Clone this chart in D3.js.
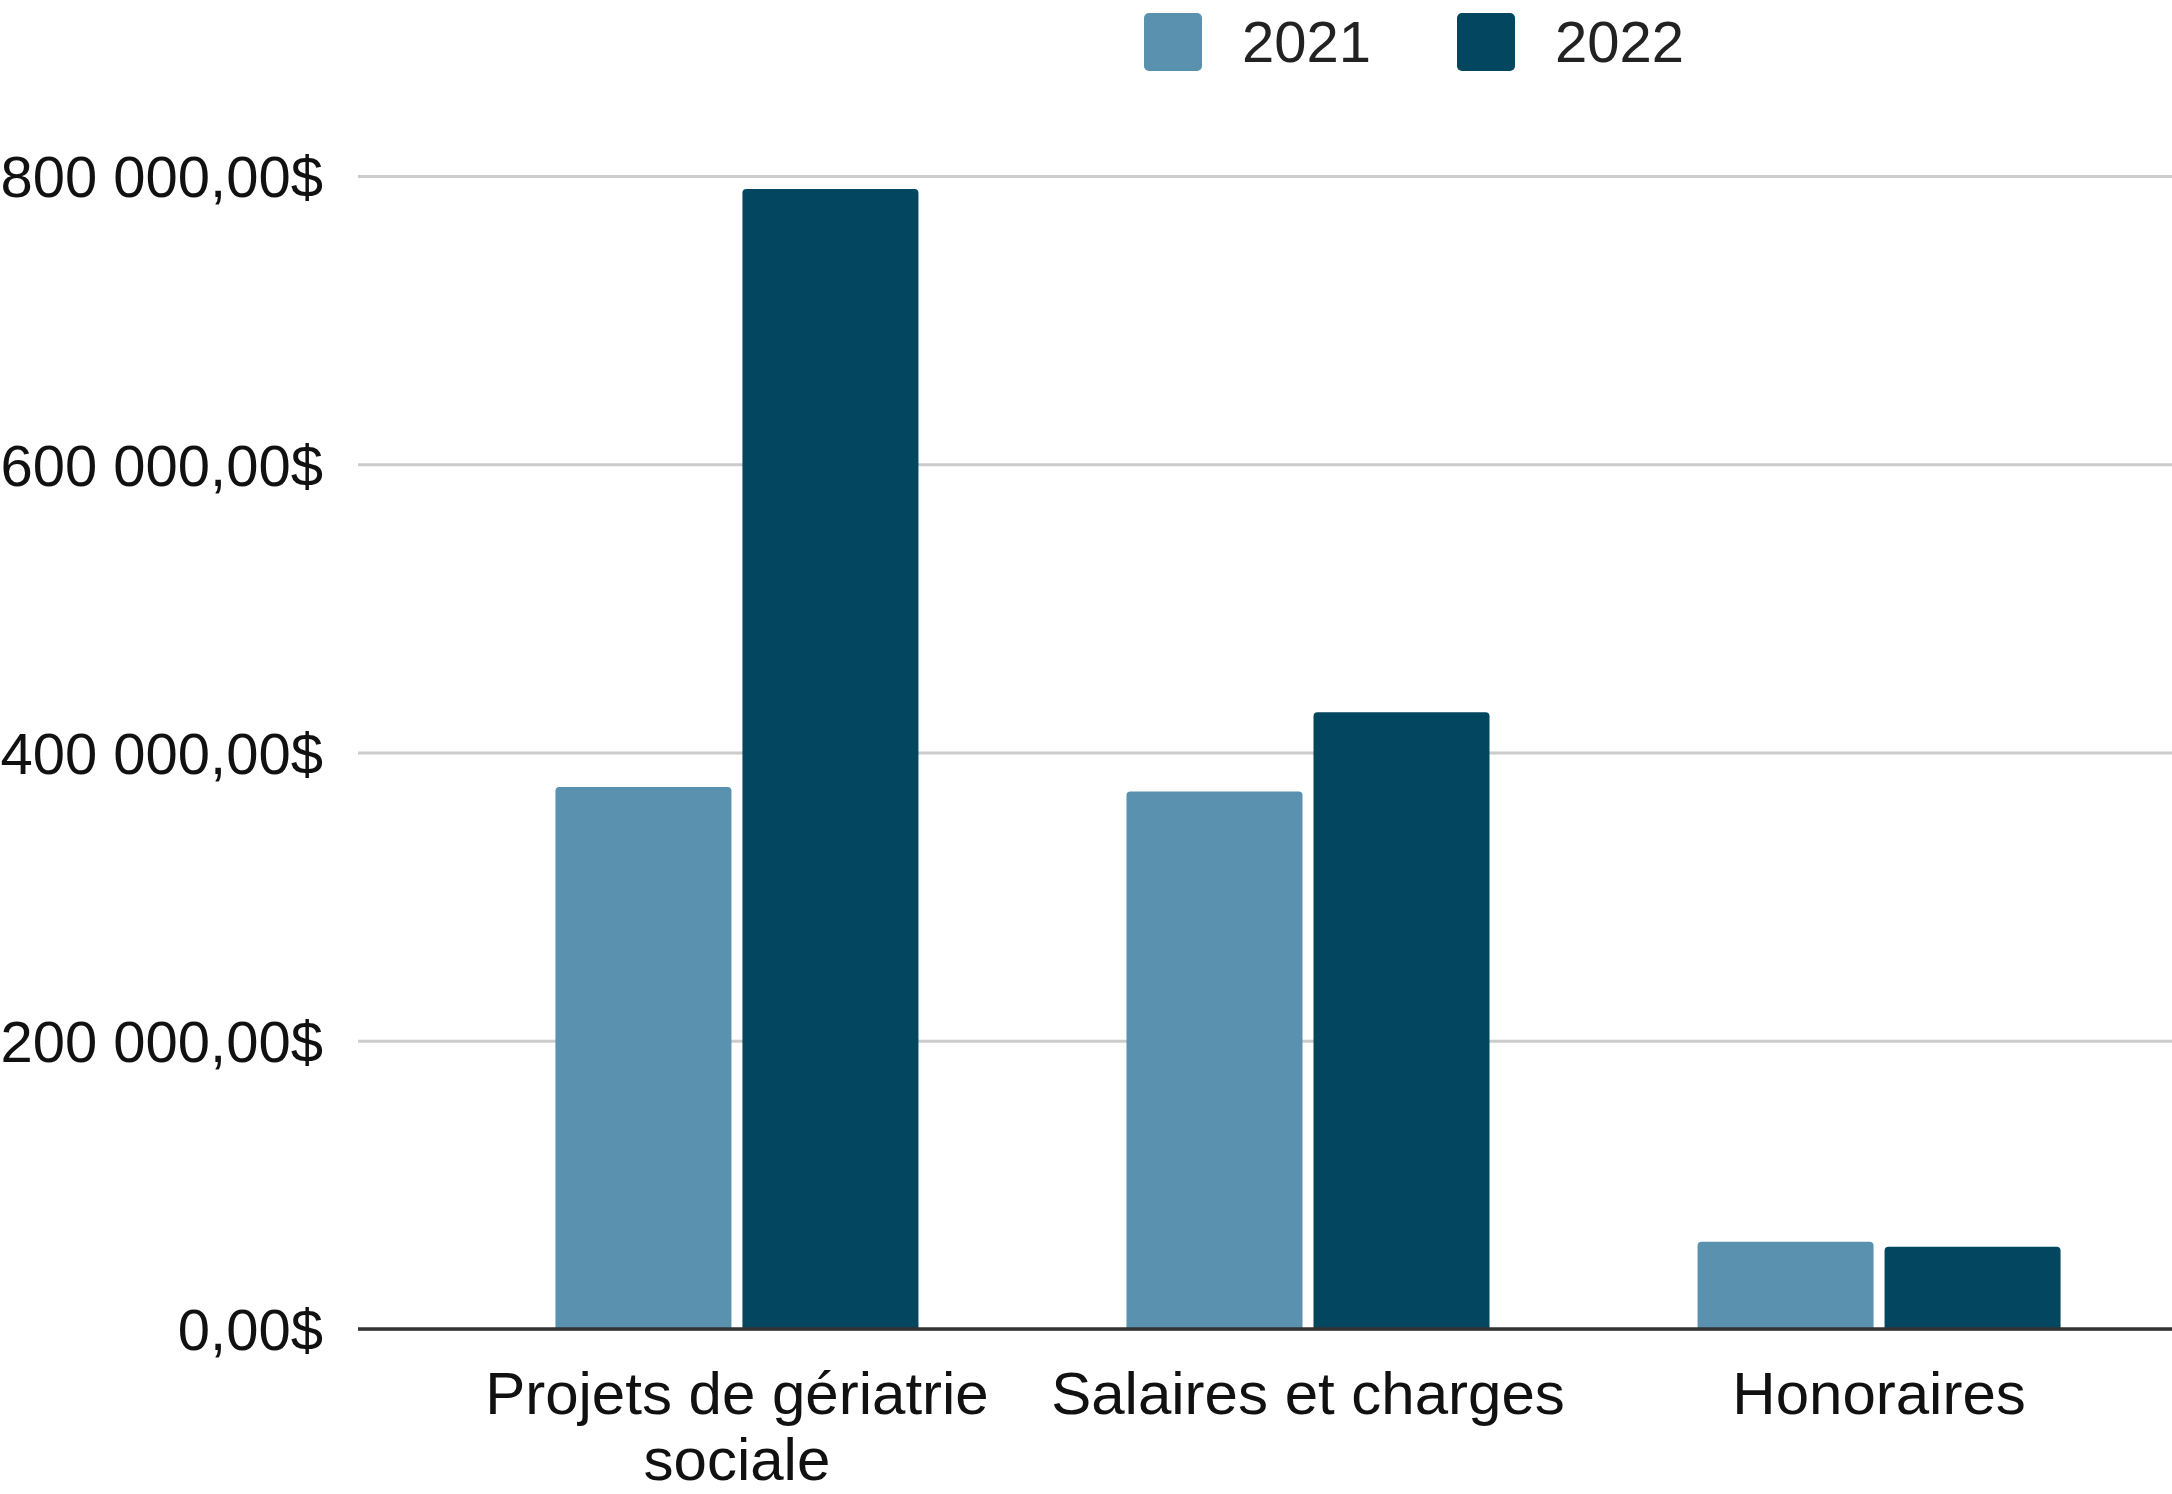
<!DOCTYPE html>
<html>
<head>
<meta charset="utf-8">
<script src="https://cdn.jsdelivr.net/npm/d3@7"></script>
<style>
  html, body { margin: 0; padding: 0; background: #ffffff; }
  svg { display: block; }
  text { font-family: "Liberation Sans", Arial, sans-serif; }
</style>
</head>
<body>
<svg id="chart" width="2172" height="1494"></svg>
<script>
// ---- Data ----
const categories = ["Projets de gériatrie sociale", "Salaires et charges", "Honoraires"];
const seriesNames = ["2021", "2022"];
const values2021 = [376000, 373000, 60500];
const values2022 = [791000, 428000, 57000];
const yTicks = [0, 200000, 400000, 600000, 800000];
const seriesColors = ["#5991ae", "#02465f"];

// ---- Layout ----
const W = 2172, H = 1494;
const plotLeft = 358, plotRight = 2172;
const yTop = 176, yBottom = 1329;

const svg = d3.select("#chart");

const fr = d3.formatLocale({ decimal: ",", thousands: " ", grouping: [3], currency: ["", "$"] });
const fmt = fr.format("$,.2f");

const y = d3.scaleLinear().domain([0, 800000]).range([yBottom, yTop]);

const x0 = d3.scaleBand().domain(categories).range([451.5, 2164.5])
  .paddingInner(0.3643).paddingOuter(0.182);
const x1 = d3.scaleBand().domain(seriesNames).range([0, x0.bandwidth()])
  .paddingInner(0.0588).paddingOuter(0);
const color = d3.scaleOrdinal().domain(seriesNames).range(seriesColors);

// ---- Gridlines + y axis labels ----
const yAxis = d3.axisLeft(y).tickValues(yTicks).tickFormat(fmt)
  .tickSizeInner(-(plotRight - plotLeft)).tickSizeOuter(0).tickPadding(35);
const gy = svg.append("g").attr("transform", `translate(${plotLeft},0)`).call(yAxis);
gy.select(".domain").remove();
gy.selectAll(".tick line").attr("stroke", "#cccccc").attr("stroke-width", 3);
gy.selectAll(".tick text")
  .attr("fill", "#111111")
  .style("font-size", "58px")
  .attr("dy", "0.36em");

// ---- Bars ----
const rows = categories.map((c, i) => ({ cat: c, vals: [values2021[i], values2022[i]] }));
function topRounded(x, yv, w, h, r) {
  r = Math.min(r, h, w / 2);
  return `M${x},${yv + h}V${yv + r}Q${x},${yv} ${x + r},${yv}H${x + w - r}Q${x + w},${yv} ${x + w},${yv + r}V${yv + h}Z`;
}
const groups = svg.append("g").selectAll("g").data(rows).join("g")
  .attr("transform", d => `translate(${x0(d.cat)},0)`);
groups.selectAll("path").data(d => d.vals.map((v, j) => ({ s: seriesNames[j], v })))
  .join("path")
  .attr("fill", d => color(d.s))
  .attr("d", d => topRounded(x1(d.s), y(d.v), x1.bandwidth(), y(0) - y(d.v), 4));

// ---- Baseline ----
svg.append("line")
  .attr("x1", plotLeft).attr("x2", plotRight)
  .attr("y1", y(0)).attr("y2", y(0))
  .attr("stroke", "#333333").attr("stroke-width", 3.5);

// ---- X axis labels ----
const xAxis = d3.axisBottom(x0).tickSize(0).tickPadding(42);
const gx = svg.append("g").attr("transform", `translate(0,${y(0)})`).call(xAxis);
gx.select(".domain").remove();
gx.selectAll(".tick text")
  .attr("fill", "#111111")
  .style("font-size", "60px")
  .call(wrap, x0.step());

function wrap(texts, width) {
  texts.each(function () {
    const text = d3.select(this);
    const words = text.text().split(/\s+/).reverse();
    const yAttr = text.attr("y");
    const dy = parseFloat(text.attr("dy"));
    let line = [], lineNumber = 0, word;
    let tspan = text.text(null).append("tspan").attr("x", 0).attr("y", yAttr).attr("dy", dy + "em");
    while ((word = words.pop())) {
      line.push(word);
      tspan.text(line.join(" "));
      if (tspan.node().getComputedTextLength() > width && line.length > 1) {
        line.pop();
        tspan.text(line.join(" "));
        line = [word];
        tspan = text.append("tspan").attr("x", 0).attr("y", yAttr)
          .attr("dy", (++lineNumber * 1.1 + dy) + "em").text(word);
      }
    }
  });
}

// ---- Legend ----
const legendX = [1144, 1457];
const legend = svg.append("g").selectAll("g").data(seriesNames).join("g")
  .attr("transform", (d, i) => `translate(${legendX[i]},13)`);
legend.append("rect")
  .attr("width", 58).attr("height", 58).attr("rx", 5).attr("ry", 5)
  .attr("fill", d => color(d));
legend.append("text")
  .attr("x", 98).attr("y", 49)
  .attr("fill", "#222222")
  .style("font-size", "58px")
  .text(d => d);
</script>
</body>
</html>
